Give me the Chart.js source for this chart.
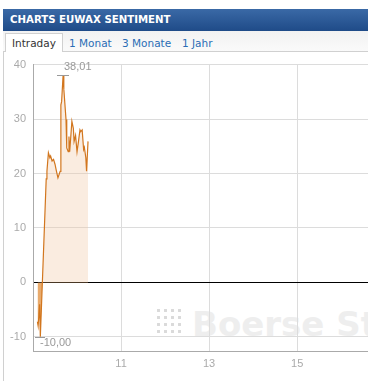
<!DOCTYPE html>
<html>
<head>
<meta charset="utf-8">
<script src="https://cdn.jsdelivr.net/npm/chart.js@4.4.1/dist/chart.umd.min.js"></script>
<style>
  body { margin: 0; background: #fff; width: 368px; height: 381px; overflow: hidden; position: relative; font-family: "DejaVu Sans", Verdana, sans-serif; }
  .head { position: absolute; left: 3px; top: 9px; width: 365px; height: 22px; background: linear-gradient(to bottom, #3a69a6, #1f4b88); color: #fff; font-weight: bold; font-size: 10.2px; line-height: 22px; padding-left: 7px; box-sizing: border-box; }
  .tabs { position: absolute; left: 3px; top: 31px; width: 365px; height: 20px; background: linear-gradient(to bottom, #f2f2f2, #fafafa); border-bottom: 1px solid #d0d0d0; }
  .tab { position: absolute; top: 4px; font-size: 10.5px; color: #2a6db5; line-height: 16px; }
  .tab.on { left: 2px; top: 2px; height: 18px; padding: 0 6px; background: #fff; border: 1px solid #d0d0d0; border-bottom: none; color: #333; line-height: 18px; }
  .frame { position: absolute; left: 3px; top: 51px; width: 1px; height: 330px; background: #d0d0d0; }
  .wm { position: absolute; left: 192px; top: 304px; font: bold 34px "DejaVu Sans", sans-serif; color: #eeeeee; white-space: nowrap; }
  .dots { position: absolute; left: 155px; top: 307px; width: 28px; height: 28px;
          background-image: radial-gradient(circle, #dadada 1.4px, transparent 1.8px); background-size: 7px 7px; }
  #wrap { position: absolute; left: 0; top: 51px; width: 368px; height: 330px; }
</style>
</head>
<body>
<div class="head">CHARTS EUWAX SENTIMENT</div>
<div class="tabs">
  <span class="tab on">Intraday</span>
  <span class="tab" style="left:66px">1 Monat</span>
  <span class="tab" style="left:119px">3 Monate</span>
  <span class="tab" style="left:179px">1 Jahr</span>
</div>
<div class="frame"></div>
<div class="dots"></div>
<div class="wm">Boerse Stuttgart</div>
<div id="wrap"><canvas id="chart" width="368" height="330"></canvas></div>
<script>
// intraday sentiment, times as HH:MM
const times = ["9:06","9:07","9:09","9:10","9:18","9:19","9:21","9:23","9:24","9:26","9:28","9:30","9:32","9:34","9:37",
  "9:38","9:39","9:41","9:42","9:45","9:46","9:48","9:49","9:50","9:53","9:55","9:56","9:58","9:60","9:62",
  "9:64","9:65","9:67","9:69","9:70","9:72","9:73","9:75"];
const sentiment = [-7.2,-8.0,-4.0,-10.0,19.0,20.4,23.8,22.9,23.2,22.3,22.6,21.7,20.4,19.2,20.4,
  32.6,33.2,38.01,35.5,29.9,24.7,24.0,26.8,24.0,29.6,28.3,25.9,27.0,24.0,25.9,
  28.0,27.7,28.0,24.4,24.8,22.9,20.4,25.9];
const xTicks = [11, 13, 15];
const yTicks = [-10, 0, 10, 20, 30, 40];

function toHours(t) {
    const p = t.split(':');
    return parseInt(p[0]) + parseInt(p[1]) / 60;
}

const points = [];
for (var i = 0; i < times.length; i++) {
    points.push({ x: toHours(times[i]), y: sentiment[i] });
}

function fmt(v) {
    return v.toFixed(2).replace('.', ',');
}

// marks the highest and lowest value like the original chart
const extremes = {
    id: 'extremes',
    afterDatasetsDraw(chart) {
        const xs = chart.scales.x, ys = chart.scales.y, ctx = chart.ctx;
        let hi = 0, lo = 0;
        sentiment.forEach((v, i) => { if (v > sentiment[hi]) hi = i; if (v < sentiment[lo]) lo = i; });
        ctx.save();
        ctx.strokeStyle = '#999';
        ctx.lineWidth = 1;
        ctx.fillStyle = '#999';
        ctx.font = '11px "Liberation Sans", Arial, sans-serif';

        let px = Math.round(xs.getPixelForValue(points[hi].x)), py = Math.round(ys.getPixelForValue(sentiment[hi])) + 0.5;
        ctx.beginPath(); ctx.moveTo(px - 6, py); ctx.lineTo(px + 6, py); ctx.stroke();
        ctx.textAlign = 'left'; ctx.textBaseline = 'bottom';
        ctx.fillText(fmt(sentiment[hi]), px + 1, py - 3);

        px = Math.round(xs.getPixelForValue(points[lo].x)); py = Math.round(ys.getPixelForValue(sentiment[lo])) + 0.5;
        ctx.beginPath(); ctx.moveTo(px - 5, py); ctx.lineTo(px + 5, py); ctx.stroke();
        ctx.textBaseline = 'top';
        ctx.fillText(fmt(sentiment[lo]), px, py);
        ctx.restore();
    }
};

const labelFont = { family: '"Liberation Sans", Arial, sans-serif', size: 11 };

new Chart(document.getElementById('chart'), {
    type: 'line',
    data: {
        datasets: [{
            data: points,
            borderColor: '#d2761e',
            borderWidth: 1.2,
            pointRadius: 0,
            tension: 0,
            fill: { target: 'origin', above: 'rgba(240,200,165,0.35)', below: '#e8aa6c' }
        }]
    },
    options: {
        responsive: false,
        animation: false,
        layout: { padding: { top: 12, right: 0, left: 0, bottom: 0 } },
        plugins: { legend: { display: false }, tooltip: { enabled: false } },
        scales: {
            x: {
                type: 'linear', min: 9, max: 16.61,
                afterBuildTicks: s => { s.ticks = xTicks.map(v => ({ value: v })); },
                afterFit: s => { s.height = 30; },
                grid: { color: '#dcdcdc', drawTicks: false },
                border: { color: '#aaa' },
                ticks: { color: '#aaa', font: labelFont, padding: 6, maxRotation: 0 }
            },
            y: {
                min: -12.6, max: 40,
                afterBuildTicks: s => { s.ticks = yTicks.map(v => ({ value: v })); },
                afterFit: s => { s.width = 33; },
                grid: { color: c => (c.tick && c.tick.value === 0) ? '#000' : '#dcdcdc', drawTicks: false },
                border: { color: '#aaa' },
                ticks: { color: '#aaa', font: labelFont, padding: 7 }
            }
        }
    },
    plugins: [extremes]
});
</script>
</body>
</html>
